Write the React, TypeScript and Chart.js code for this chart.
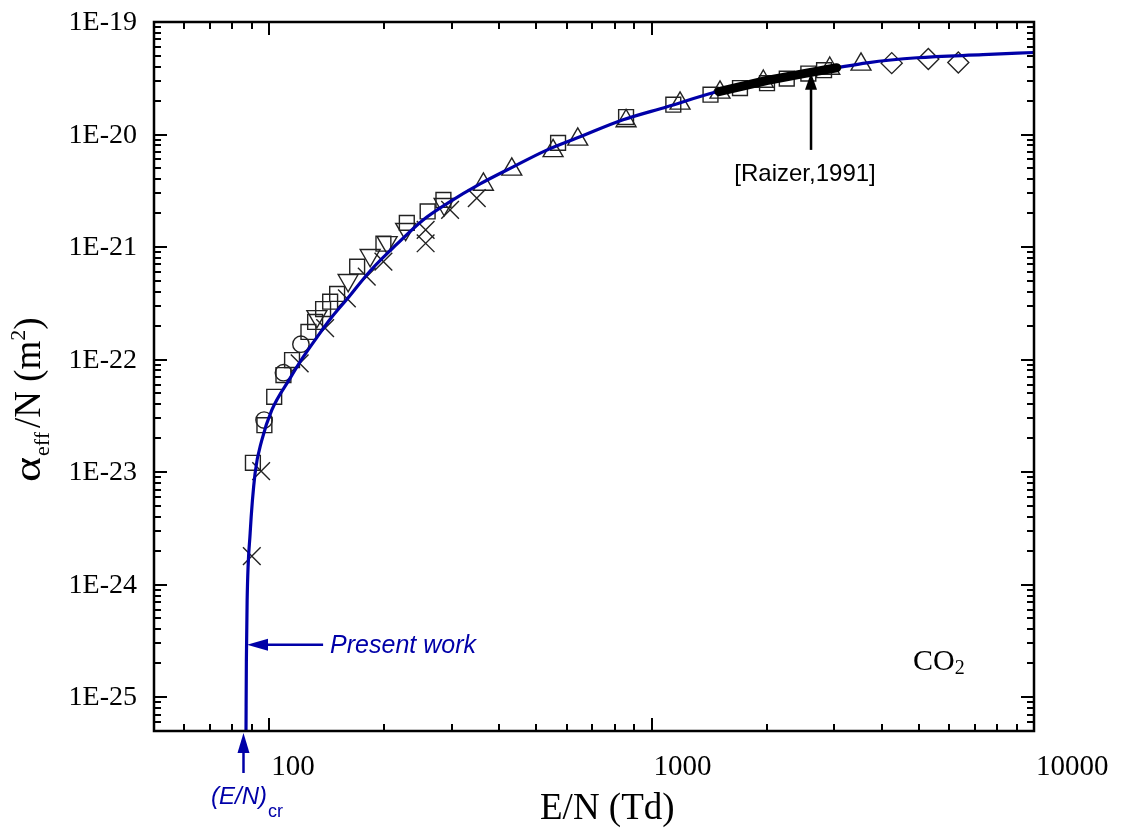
import React, { useEffect, useRef } from "react";
import { Chart, registerables } from "chart.js";

Chart.register(...registerables);

// ---------------- data ----------------
const xRange = [50, 10000];
const yRange = [5e-26, 1e-19];

const xMajorTicks = [100, 1000, 10000];
const xTickLabels = ["100", "1000", "10000"];
const yMajorTicks = [1e-25, 1e-24, 1e-23, 1e-22, 1e-21, 1e-20, 1e-19];
const yTickLabels = ["1E-25", "1E-24", "1E-23", "1E-22", "1E-21", "1E-20", "1E-19"];

// Present work (blue curve)
const presentWorkEN = [87.0, 87.2, 87.6, 89.2, 91.9, 95.7, 101.6, 113.5, 122.7, 133.5, 145.2, 159.9, 183.7, 216.1, 252.7, 293.8, 356.1, 434.5, 526.8, 650.2, 842.4, 1098, 1448, 2041, 3055, 3660, 4944, 7357, 10000];
const presentWorkAlpha = [5.0e-26, 2.12e-25, 7.25e-25, 2.86e-24, 9.8e-24, 1.92e-23, 3.55e-23, 6.84e-23, 1.05e-22, 1.585e-22, 2.34e-22, 3.45e-22, 6.13e-22, 1.066e-21, 1.742e-21, 2.47e-21, 3.64e-21, 5.16e-21, 7.16e-21, 9.54e-21, 1.351e-20, 1.763e-20, 2.35e-20, 3.07e-20, 3.92e-20, 4.34e-20, 4.81e-20, 5.12e-20, 5.36e-20];

// Raizer, 1991 (thick black segment)
const raizerEN = [1500, 2000, 2500, 3050];
const raizerAlpha = [2.4e-20, 3.02e-20, 3.48e-20, 3.92e-20];

// Experimental data sets
const squaresEN = [90.7, 97.2, 103.1, 109.0, 114.8, 126.7, 131.9, 138.4, 144.4, 150.6, 169.9, 199.0, 229.1, 259.7, 285.6, 569.6, 857.7, 1140, 1426, 1703, 2004, 2257, 2570, 2825];
const squaresAlpha = [1.21e-23, 2.61e-23, 4.67e-23, 7.28e-23, 9.91e-23, 1.76e-22, 2.16e-22, 2.81e-22, 3.27e-22, 3.83e-22, 6.7e-22, 1.07e-21, 1.64e-21, 2.07e-21, 2.62e-21, 8.43e-21, 1.43e-20, 1.84e-20, 2.26e-20, 2.59e-20, 2.86e-20, 3.14e-20, 3.48e-20, 3.73e-20];

const circlesEN = [97.0, 109.0, 121.1];
const circlesAlpha = [2.9e-23, 7.64e-23, 1.37e-22];

const crossesEN = [90.1, 95.3, 120.2, 140.1, 159.7, 180.0, 199.0, 256.6, 256.6, 297.3, 349.1];
const crossesAlpha = [1.79e-24, 1.02e-23, 9.24e-23, 1.9e-22, 3.5e-22, 5.46e-22, 7.41e-22, 1.42e-21, 1.08e-21, 2.14e-21, 2.72e-21];

const triDownEN = [133.3, 160.9, 183.7, 203.5, 227.5, 286.8];
const triDownAlpha = [2.42e-22, 5.07e-22, 8.45e-22, 1.1e-21, 1.44e-21, 2.4e-21];

const triUpEN = [363.3, 431.0, 552.7, 641.2, 857.7, 1187, 1510, 1960, 2924, 3529];
const triUpAlpha = [3.6e-21, 4.9e-21, 7.16e-21, 9.06e-21, 1.32e-20, 1.89e-20, 2.37e-20, 2.96e-20, 3.86e-20, 4.2e-20];

const diamondsEN = [4246, 5293, 6340];
const diamondsAlpha = [4.31e-20, 4.69e-20, 4.37e-20];

// annotation anchors (data coordinates)
const raizerArrowEN = 2612;
const raizerArrowTipAlpha = 3.54e-20;
const raizerArrowTailAlpha = 7.3e-21;
const presentArrowTipEN = 87.0;
const presentArrowTailEN = 138.4;
const presentArrowAlpha = 2.92e-25;
const criticalEN = 85.7;

// ---------------- styles ----------------
const SERIF = '"Liberation Serif", "Times New Roman", serif';
const SANS = '"Liberation Sans", Arial, sans-serif';
const BLUE = "#0000A8";
const MARK = "#222";

const pts = (xs: number[], ys: number[]) => xs.map((x, i) => ({ x, y: ys[i] }));

const overlay = {
  id: "originFrame",
  afterDraw(chart: any) {
    const { ctx, chartArea: a } = chart;
    const xs = chart.scales.x;
    const ys = chart.scales.y;
    ctx.save();

    // ---- ticks (inward, all four sides) ----
    ctx.strokeStyle = "#000";
    ctx.lineWidth = 2;
    ctx.lineCap = "butt";
    for (let e = 1; e <= 4; e++) {
      for (let m = 1; m <= 9; m++) {
        const v = Number(`${m}e${e}`);
        if (v <= xRange[0] || v >= xRange[1]) continue;
        const px = Math.round(xs.getPixelForValue(v));
        const len = m === 1 ? 13 : 7;
        ctx.beginPath();
        ctx.moveTo(px, a.bottom);
        ctx.lineTo(px, a.bottom - len);
        ctx.moveTo(px, a.top);
        ctx.lineTo(px, a.top + len);
        ctx.stroke();
      }
    }
    for (let e = -26; e <= -19; e++) {
      for (let m = 1; m <= 9; m++) {
        const v = Number(`${m}e${e}`);
        if (v <= yRange[0] * 1.0001 || v >= yRange[1] * 0.9999) continue;
        const py = Math.round(ys.getPixelForValue(v));
        const len = m === 1 ? 13 : 7;
        ctx.beginPath();
        ctx.moveTo(a.left, py);
        ctx.lineTo(a.left + len, py);
        ctx.moveTo(a.right, py);
        ctx.lineTo(a.right - len, py);
        ctx.stroke();
      }
    }

    // ---- frame ----
    ctx.lineWidth = 2.5;
    ctx.strokeRect(a.left, a.top, a.right - a.left, a.bottom - a.top);

    // ---- tick labels ----
    ctx.fillStyle = "#000";
    ctx.font = `29px ${SERIF}`;
    ctx.textAlign = "left";
    ctx.textBaseline = "alphabetic";
    xMajorTicks.forEach((v, i) => {
      const px = xs.getPixelForValue(v);
      ctx.fillText(xTickLabels[i], px + 2, 775);
    });
    ctx.font = `28px ${SERIF}`;
    ctx.textAlign = "right";
    ctx.textBaseline = "middle";
    yMajorTicks.forEach((v, i) => {
      const py = ys.getPixelForValue(v);
      ctx.fillText(yTickLabels[i], 137, py + 1);
    });

    // ---- axis titles ----
    ctx.font = `37px ${SERIF}`;
    ctx.textAlign = "left";
    ctx.textBaseline = "alphabetic";
    ctx.fillText("E/N (Td)", 540, 819);

    ctx.save();
    ctx.translate(40, 482);
    ctx.rotate(-Math.PI / 2);
    let cx = 0;
    ctx.font = `37px ${SERIF}`;
    const aw = ctx.measureText("\u03B1").width;
    const target = Math.max(aw, 25);
    ctx.save();
    ctx.scale(target / aw, 1);
    ctx.fillText("\u03B1", 0, 0);
    ctx.restore();
    cx += target + 1;
    ctx.font = `22px ${SERIF}`;
    ctx.fillText("eff", cx, 9);
    cx += ctx.measureText("eff").width + 4;
    ctx.font = `37px ${SERIF}`;
    ctx.fillText("/N (m", cx, 0);
    cx += ctx.measureText("/N (m").width;
    ctx.font = `22px ${SERIF}`;
    ctx.fillText("2", cx, -15);
    cx += ctx.measureText("2").width;
    ctx.font = `37px ${SERIF}`;
    ctx.fillText(")", cx, 0);
    ctx.restore();

    // ---- CO2 label ----
    ctx.font = `30px ${SERIF}`;
    ctx.fillText("CO", 913, 670);
    const cw = ctx.measureText("CO").width;
    ctx.font = `20px ${SERIF}`;
    ctx.fillText("2", 913 + cw, 674);

    // ---- Raizer arrow ----
    const rx = xs.getPixelForValue(raizerArrowEN);
    const rTip = ys.getPixelForValue(raizerArrowTipAlpha);
    const rTail = ys.getPixelForValue(raizerArrowTailAlpha);
    ctx.strokeStyle = "#000";
    ctx.fillStyle = "#000";
    ctx.lineWidth = 2.5;
    ctx.beginPath();
    ctx.moveTo(rx, rTail);
    ctx.lineTo(rx, rTip + 12);
    ctx.stroke();
    ctx.beginPath();
    ctx.moveTo(rx, rTip);
    ctx.lineTo(rx - 6, rTip + 17);
    ctx.lineTo(rx + 6, rTip + 17);
    ctx.closePath();
    ctx.fill();
    ctx.font = `24px ${SANS}`;
    ctx.textAlign = "center";
    ctx.fillText("[Raizer,1991]", rx - 6, rTail + 31);

    // ---- Present work arrow ----
    const pTip = xs.getPixelForValue(presentArrowTipEN);
    const pTail = xs.getPixelForValue(presentArrowTailEN);
    const py = ys.getPixelForValue(presentArrowAlpha);
    ctx.strokeStyle = BLUE;
    ctx.fillStyle = BLUE;
    ctx.lineWidth = 2.5;
    ctx.beginPath();
    ctx.moveTo(pTail, py);
    ctx.lineTo(pTip + 15, py);
    ctx.stroke();
    ctx.beginPath();
    ctx.moveTo(pTip + 1, py);
    ctx.lineTo(pTip + 22, py - 6);
    ctx.lineTo(pTip + 22, py + 6);
    ctx.closePath();
    ctx.fill();
    ctx.font = `italic 25px ${SANS}`;
    ctx.textAlign = "left";
    ctx.fillText("Present work", pTail + 7, py + 8);

    // ---- (E/N)cr arrow ----
    const crx = xs.getPixelForValue(criticalEN);
    ctx.beginPath();
    ctx.moveTo(crx, a.bottom + 42);
    ctx.lineTo(crx, a.bottom + 14);
    ctx.stroke();
    ctx.beginPath();
    ctx.moveTo(crx, a.bottom + 2);
    ctx.lineTo(crx - 6, a.bottom + 22);
    ctx.lineTo(crx + 6, a.bottom + 22);
    ctx.closePath();
    ctx.fill();
    ctx.font = `italic 24px ${SANS}`;
    ctx.textAlign = "left";
    ctx.fillText("(E/N)", 211, 804);
    const ew = ctx.measureText("(E/N)").width;
    ctx.font = `18px ${SANS}`;
    ctx.fillText("cr", 211 + ew + 1, 817);

    ctx.restore();
  },
};

export default function App() {
  const ref = useRef<HTMLCanvasElement>(null);
  useEffect(() => {
    if (!ref.current) return;
    const markerBase = {
      showLine: false,
      backgroundColor: "rgba(0,0,0,0)",
      borderColor: MARK,
      borderWidth: 1.4,
      order: 3,
    };
    const chart = new Chart(ref.current, {
      type: "scatter",
      data: {
        datasets: [
          {
            label: "Raizer 1991",
            data: pts(raizerEN, raizerAlpha),
            showLine: true,
            borderColor: "#000",
            borderWidth: 9,
            borderCapStyle: "round",
            pointRadius: 0,
            fill: false,
            order: 0,
          },
          {
            label: "Present work",
            data: pts(presentWorkEN, presentWorkAlpha),
            showLine: true,
            borderColor: BLUE,
            borderWidth: 3.2,
            pointRadius: 0,
            cubicInterpolationMode: "monotone",
            fill: false,
            order: 1,
          },
          { ...markerBase, label: "squares", data: pts(squaresEN, squaresAlpha), pointStyle: "rect", pointRadius: 10.5 },
          { ...markerBase, label: "circles", data: pts(circlesEN, circlesAlpha), pointStyle: "circle", pointRadius: 8.2 },
          { ...markerBase, label: "crosses", data: pts(crossesEN, crossesAlpha), pointStyle: "crossRot", pointRadius: 12.5 },
          { ...markerBase, label: "down", data: pts(triDownEN, triDownAlpha), pointStyle: "triangle", pointRotation: 180, pointRadius: 11.5 },
          { ...markerBase, label: "up", data: pts(triUpEN, triUpAlpha), pointStyle: "triangle", pointRadius: 11.5 },
          { ...markerBase, label: "diamonds", data: pts(diamondsEN, diamondsAlpha), pointStyle: "rectRot", pointRadius: 10.5 },
        ] as any,
      },
      options: {
        responsive: false,
        animation: false,
        devicePixelRatio: 1,
        events: [],
        layout: { padding: { left: 154, right: 91, top: 22, bottom: 98 } },
        plugins: { legend: { display: false }, tooltip: { enabled: false } },
        scales: {
          x: { type: "logarithmic", min: xRange[0], max: xRange[1], display: false },
          y: { type: "logarithmic", min: yRange[0], max: yRange[1], display: false },
        },
      } as any,
      plugins: [overlay],
    });
    return () => chart.destroy();
  }, []);
  return (
    <div style={{ position: "absolute", left: 0, top: 0, width: 1125, height: 829, background: "#fff" }}>
      <canvas ref={ref} width={1125} height={829} style={{ display: "block" }} />
    </div>
  );
}
